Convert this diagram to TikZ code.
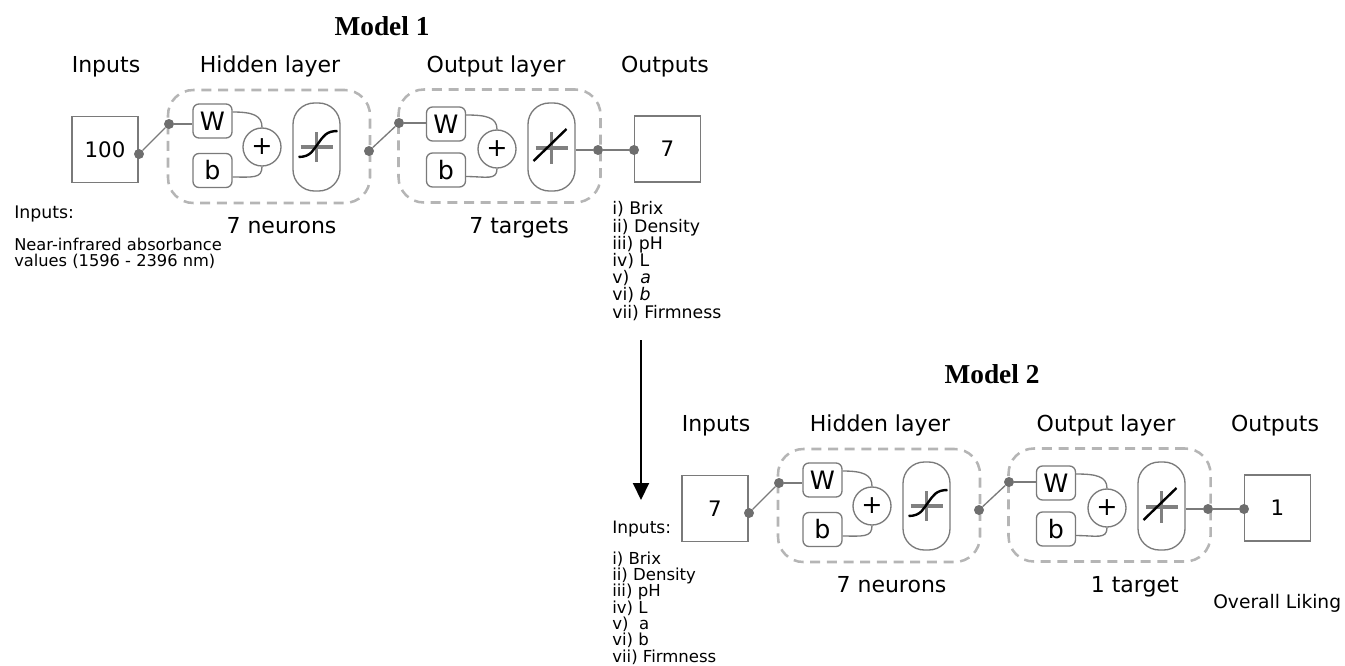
\documentclass[tikz,border=0pt]{standalone}
\usepackage{fontspec}
\setmainfont{DejaVu Sans}
\newfontfamily\titlefont{Liberation Serif}
\usetikzlibrary{arrows.meta}

\definecolor{boxgray}{HTML}{7A7A7A}
\definecolor{dashgray}{HTML}{B5B5B5}
\definecolor{dotgray}{HTML}{6E6E6E}
\definecolor{crossgray}{HTML}{808080}

\tikzset{
 iobox/.style={draw=boxgray, line width=1.1pt, minimum width=49.5pt, minimum height=49.5pt, inner sep=0pt, font=\fontsize{16}{18}\selectfont},
 wbbox/.style={draw=boxgray, line width=1pt, rounded corners=4.5pt, minimum width=29.25pt, minimum height=25.5pt, inner sep=0pt, font=\fontsize{19}{21}\selectfont},
 sumnode/.style={circle, draw=boxgray, line width=1pt, minimum size=28.5pt, inner sep=0pt, font=\fontsize{19}{21}\selectfont},
 tfbox/.style={draw=boxgray, line width=1pt, rounded corners=16pt, minimum width=35.25pt, minimum height=66pt, inner sep=0pt},
 layerbox/.style={draw=dashgray, line width=1.9pt, dash pattern=on 7.5pt off 5pt, rounded corners=19pt, minimum width=151.5pt, minimum height=84.75pt, inner sep=0pt},
 dotnode/.style={circle, fill=dotgray, minimum size=7.5pt, inner sep=0pt},
 wire/.style={draw=boxgray, line width=1pt},
 heading/.style={anchor=base, inner sep=0pt, font=\fontsize{16.5}{19}\selectfont},
 crossline/.style={draw=crossgray, line width=2.6pt},
 curveline/.style={draw=black, line width=1.8pt},
 modeltitle/.style={anchor=base, inner sep=0pt, font=\titlefont\bfseries\fontsize{20.5}{24}\selectfont},
 smalltext/.style={anchor=base west, inner sep=0pt, align=left},
}

\newcommand\drawmodel[4]{%
 \node[layerbox] (hid) at (269,146.5) {};
 \node[layerbox] (out) at (499.5,146) {};
 \node[iobox] (in) at (105,149.5) {#1};
 \node[iobox] (res) at (667.5,149) {#2};
 \node[wbbox] (hW) at (212.5,121) {W};
 \node[wbbox] (hb) at (212.5,170.5) {b};
 \node[sumnode] (hs) at (262,147) {+};
 \node[tfbox] (htf) at (316.5,147) {};
 \node[wbbox] (oW) at (446,124) {W};
 \node[wbbox] (ob) at (446,170) {b};
 \node[sumnode] (os) at (497,149) {+};
 \node[tfbox] (otf) at (551.5,147) {};
 \begin{scope}[shift={(htf.center)}]
  \draw[crossline] (-16,0) -- (16,0) (0,-15) -- (0,15);
  \draw[curveline] (-18,10) .. controls (-5,10) and (-3,2) .. (2,-4) .. controls (7,-11) and (10,-16) .. (21,-16);
 \end{scope}
 \begin{scope}[shift={(otf.center)}]
  \draw[crossline] (-16,1) -- (16,1) (0,-15) -- (0,17);
  \draw[curveline] (-18,14) -- (15,-18);
 \end{scope}
 \draw[wire] ([yshift=6.75pt]hW.east) .. controls +(15pt,0pt) and +(0pt,9pt) .. (hs.north);
 \draw[wire] ([yshift=-4.9pt]hb.east) .. controls +(15pt,0pt) and +(0pt,-9pt) .. (hs.south);
 \draw[wire] ([yshift=6.75pt]oW.east) .. controls +(15pt,0pt) and +(0pt,9pt) .. (os.north);
 \draw[wire] ([yshift=-4.9pt]ob.east) .. controls +(15pt,0pt) and +(0pt,-9pt) .. (os.south);
 \node[dotnode] (d1) at (139,154) {};
 \node[dotnode] (d2) at (169,124) {};
 \node[dotnode] (d3) at (369,151) {};
 \node[dotnode] (d4) at (399,123) {};
 \node[dotnode] (d5) at (598,150) {};
 \node[dotnode] (d6) at (634,150) {};
 \draw[wire] (d1) -- (d2);
 \draw[wire] (d2) -- (hW.west |- d2);
 \draw[wire] (d3) -- (d4);
 \draw[wire] (d4) -- (oW.west |- d4);
 \draw[wire] (otf.east |- d5) -- (d5);
 \draw[wire] (d5) -- (d6);
 \node[heading] (hIn) at (106,72) {Inputs};
 \node[heading] (hHid) at (270,72) {Hidden layer};
 \node[heading] (hOut) at (496,72) {Output layer};
 \node[heading] (hRes) at (665,72) {Outputs};
 \node[heading] (nNeu) at (281.5,233) {#3};
 \node[heading, anchor=base east] (nTar) at (569,233) {#4};
}

\begin{document}
\begin{tikzpicture}[x=0.75pt, y=-0.75pt]
\useasboundingbox (0,0) rectangle (1345,665);

\node[modeltitle] (t1) at (382,35) {Model 1};
\node[modeltitle] (t2) at (992,383) {Model 2};

\begin{scope}[name prefix=m1-]
 \drawmodel{100}{7}{7 neurons}{7 targets}
\end{scope}
\begin{scope}[name prefix=m2-, shift={(610,359)}]
 \drawmodel{7}{1}{7 neurons}{1 target}
\end{scope}

\node[smalltext, font=\fontsize{13}{14}\selectfont] (inlab1) at (14,218) {Inputs:};
\node[smalltext, font=\fontsize{12.2}{12}\selectfont] (indesc1) at (14,266) {Near-infrared absorbance\\values (1596 - 2396 nm)};
\node[smalltext, font=\fontsize{13}{12.9}\selectfont] (list1) at (612,318) {i) Brix\\ii) Density\\iii) pH\\iv) L\\v)\ \ \textit{a}\\vi) \textit{b}\\vii) Firmness};

\node[smalltext, font=\fontsize{12.8}{14}\selectfont] (inlab2) at (612,533) {Inputs:};
\node[smalltext, font=\fontsize{12.4}{12.2}\selectfont] (list2) at (612,662) {i) Brix\\ii) Density\\iii) pH\\iv) L\\v)\ \ a\\vi) b\\vii) Firmness};
\node[smalltext, font=\fontsize{14}{16}\selectfont] (overall) at (1213,608) {Overall Liking};

\coordinate (aS) at (641,340);
\coordinate (aE) at (641,500);
\draw[-{Triangle[width=12pt,length=12.75pt]}, line width=1.5pt] (aS) -- (aE);
\end{tikzpicture}
\end{document}
